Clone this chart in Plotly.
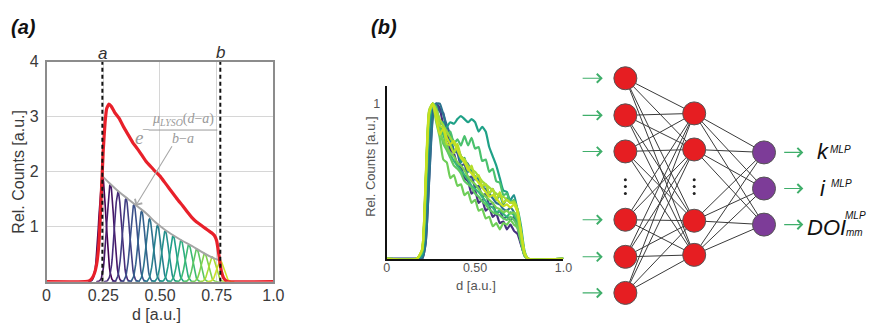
import numpy as np
import plotly.graph_objects as go
from plotly.colors import sample_colorscale

W, H = 892, 330
FONT = "Liberation Sans, Arial, sans-serif"

# ---------------- Panel (a) data ----------------
red_d = [0.00, 0.17, 0.19, 0.20, 0.21, 0.22, 0.23, 0.236, 0.243, 0.25,
         0.258, 0.265, 0.275, 0.285, 0.30, 0.32, 0.34, 0.36, 0.38, 0.40,
         0.42, 0.44, 0.46, 0.48, 0.50, 0.52, 0.54, 0.56, 0.58, 0.60,
         0.62, 0.64, 0.66, 0.68, 0.70, 0.72, 0.73, 0.74, 0.75, 0.755,
         0.76, 0.765, 0.77, 0.78, 0.79, 0.80, 1.00]
red_v = [0.00, 0.00, 0.02, 0.06, 0.14, 0.30, 0.65, 1.10, 1.75, 2.40,
         2.90, 3.15, 3.23, 3.19, 3.08, 2.97, 2.81, 2.67, 2.53, 2.42,
         2.30, 2.18, 2.09, 2.00, 1.92, 1.81, 1.70, 1.59, 1.48, 1.38,
         1.27, 1.17, 1.09, 1.03, 0.97, 0.91, 0.88, 0.84, 0.74, 0.62,
         0.48, 0.33, 0.20, 0.07, 0.02, 0.00, 0.00]

env_d = [0.246, 0.28, 0.32, 0.36, 0.40, 0.44, 0.48, 0.52, 0.56, 0.60, 0.64, 0.68, 0.72, 0.766]
env_v = [1.92, 1.78, 1.63, 1.50, 1.37, 1.24, 1.08, 0.95, 0.84, 0.74, 0.65, 0.55, 0.46, 0.38]

peak_centers = [0.246, 0.281, 0.315, 0.350, 0.385, 0.419, 0.454, 0.489,
                0.523, 0.558, 0.593, 0.627, 0.662, 0.697, 0.731, 0.766]
peak_heights = [1.92, 1.77, 1.64, 1.51, 1.40, 1.28, 1.14, 1.02,
                0.92, 0.83, 0.75, 0.67, 0.59, 0.51, 0.45, 0.38]
peak_sigma = 0.0155

a_pos, b_pos = 0.246, 0.766
xa_ticks = [0, 0.25, 0.5, 0.75, 1.0]
xa_text = ["0", "0.25", "0.50", "0.75", "1.0"]
ya_ticks = [1, 2, 3, 4]

# ---------------- Panel (b) data ----------------
b_grid = [0.00, 0.17, 0.20, 0.22, 0.24, 0.26, 0.28, 0.30, 0.32, 0.34,
          0.36, 0.38, 0.40, 0.42, 0.44, 0.46, 0.48, 0.50, 0.52, 0.54,
          0.56, 0.58, 0.60, 0.62, 0.64, 0.66, 0.68, 0.70, 0.72, 0.74,
          0.76, 0.78, 0.80, 1.00]
b_curves = [
    [0,0,0,0.10,0.52,0.92,1.00,0.97,0.86,0.82,0.70,0.68,0.60,0.59,0.52,0.50,0.42,0.44,0.36,0.38,0.31,0.33,0.27,0.29,0.23,0.24,0.19,0.22,0.18,0.16,0.09,0.02,0,0],
    [0,0,0,0.14,0.60,0.95,1.00,0.95,0.94,0.80,0.78,0.70,0.68,0.60,0.61,0.52,0.53,0.46,0.47,0.40,0.42,0.35,0.36,0.29,0.31,0.26,0.27,0.25,0.27,0.20,0.10,0.02,0,0],
    [0,0,0,0.10,0.50,0.90,1.00,1.00,0.93,0.86,0.80,0.75,0.72,0.66,0.63,0.61,0.56,0.53,0.51,0.46,0.45,0.42,0.39,0.36,0.35,0.32,0.31,0.33,0.30,0.23,0.12,0.03,0,0],
    [0,0,0.02,0.30,0.80,1.00,0.96,0.88,0.88,0.76,0.77,0.68,0.71,0.62,0.65,0.56,0.58,0.51,0.53,0.46,0.48,0.42,0.45,0.38,0.41,0.35,0.39,0.38,0.41,0.31,0.16,0.03,0,0],
    [0,0,0.03,0.40,0.90,1.00,0.96,0.86,0.82,0.85,0.88,0.87,0.90,0.92,0.90,0.88,0.90,0.88,0.82,0.85,0.82,0.72,0.66,0.60,0.52,0.44,0.43,0.37,0.37,0.32,0.21,0.05,0,0],
    [0,0,0.04,0.42,0.90,1.00,0.93,0.86,0.80,0.73,0.67,0.63,0.60,0.57,0.54,0.51,0.47,0.45,0.43,0.40,0.37,0.34,0.33,0.30,0.31,0.29,0.27,0.30,0.28,0.24,0.13,0.03,0,0],
    [0,0,0.05,0.45,0.93,1.00,0.98,0.88,0.86,0.80,0.82,0.74,0.77,0.73,0.79,0.73,0.78,0.71,0.72,0.63,0.64,0.56,0.58,0.50,0.49,0.41,0.42,0.36,0.38,0.30,0.17,0.04,0,0],
    [0,0,0.05,0.46,0.93,1.00,0.94,0.84,0.74,0.70,0.65,0.60,0.58,0.55,0.50,0.48,0.46,0.42,0.40,0.37,0.35,0.32,0.30,0.29,0.28,0.26,0.25,0.27,0.25,0.21,0.11,0.02,0,0],
    [0,0,0.05,0.48,0.95,1.00,0.88,0.78,0.64,0.62,0.52,0.54,0.47,0.48,0.41,0.43,0.36,0.38,0.31,0.32,0.26,0.27,0.21,0.23,0.19,0.23,0.22,0.25,0.22,0.20,0.11,0.02,0,0],
    [0,0,0.05,0.47,0.94,1.00,0.92,0.82,0.76,0.72,0.68,0.66,0.62,0.60,0.57,0.53,0.50,0.48,0.45,0.42,0.40,0.38,0.36,0.33,0.32,0.30,0.31,0.29,0.30,0.26,0.14,0.03,0,0],
    [0,0,0.06,0.52,0.96,1.00,0.96,0.90,0.86,0.82,0.78,0.74,0.71,0.66,0.64,0.60,0.58,0.56,0.53,0.50,0.48,0.46,0.44,0.42,0.40,0.40,0.38,0.36,0.37,0.32,0.18,0.04,0,0],
    [0,0,0.06,0.50,0.95,1.00,0.95,0.86,0.84,0.74,0.73,0.68,0.74,0.66,0.64,0.57,0.60,0.52,0.54,0.47,0.48,0.42,0.45,0.38,0.43,0.36,0.38,0.36,0.36,0.30,0.16,0.03,0,0],
    [0,0,0.06,0.50,0.94,1.00,0.90,0.80,0.84,0.78,0.74,0.76,0.70,0.65,0.62,0.58,0.55,0.52,0.49,0.46,0.43,0.40,0.41,0.39,0.36,0.34,0.35,0.33,0.35,0.30,0.17,0.04,0,0],
]
b_colors = ["#46317e", "#3b528b", "#2c728e", "#21918c", "#1fa187", "#35b779",
            "#4ac16d", "#5ec962", "#6ece58", "#7ad151", "#a0da39", "#b5de2b", "#c8e020"]
xb_ticks = [0, 0.5, 1.0]
xb_text = ["0", "0.50", "1.0"]

# ---------------- Network data (pixel layout) ----------------
layer_x = [632, 702, 773]
input_y = [72, 110, 147, 217, 255, 292]
hidden_y = [108, 145, 218, 253]
output_y = [148, 185, 222]
dots_y = [176, 183, 190]
node_size = 23

fig = go.Figure()

# Panel (a) traces
cols = sample_colorscale("Viridis", list(np.linspace(0.0, 0.93, len(peak_centers))))
for c, h, col in zip(peak_centers, peak_heights, cols):
    xs = np.linspace(c - 4 * peak_sigma, c + 4 * peak_sigma, 49)
    ys = h * np.exp(-0.5 * ((xs - c) / peak_sigma) ** 2)
    fig.add_trace(go.Scatter(x=xs, y=ys, mode="lines", line=dict(color=col, width=1.6),
                             xaxis="x", yaxis="y", hoverinfo="skip"))
fig.add_trace(go.Scatter(x=env_d, y=env_v, mode="lines", line=dict(color="#a5a5a5", width=2, shape="spline"),
                         xaxis="x", yaxis="y"))
fig.add_trace(go.Scatter(x=red_d, y=red_v, mode="lines", line=dict(color="#e8202a", width=3.2, shape="spline", smoothing=0.4),
                         xaxis="x", yaxis="y"))

# Panel (b) traces
for ys, col in zip(b_curves, b_colors):
    fig.add_trace(go.Scatter(x=b_grid, y=ys, mode="lines",
                             line=dict(color=col, width=2.2, shape="spline", smoothing=0.5),
                             xaxis="x2", yaxis="y2"))

# Network edges
ex, ey = [], []
for y0 in input_y:
    for y1 in hidden_y:
        ex += [layer_x[0], layer_x[1], None]
        ey += [y0, y1, None]
for y0 in hidden_y:
    for y1 in output_y:
        ex += [layer_x[1], layer_x[2], None]
        ey += [y0, y1, None]
fig.add_trace(go.Scatter(x=ex, y=ey, mode="lines", line=dict(color="#3a3a3a", width=1),
                         xaxis="x3", yaxis="y3"))
fig.add_trace(go.Scatter(x=[layer_x[0]] * len(input_y) + [layer_x[1]] * len(hidden_y),
                         y=input_y + hidden_y, mode="markers",
                         marker=dict(size=node_size, color="#e61e22", line=dict(color="#555555", width=1)),
                         xaxis="x3", yaxis="y3", cliponaxis=False))
fig.add_trace(go.Scatter(x=[layer_x[2]] * len(output_y), y=output_y, mode="markers",
                         marker=dict(size=node_size, color="#7d3c98", line=dict(color="#555555", width=1)),
                         xaxis="x3", yaxis="y3", cliponaxis=False))
fig.add_trace(go.Scatter(x=[layer_x[0]] * 3 + [layer_x[1]] * 3, y=dots_y * 2, mode="markers",
                         marker=dict(size=3, color="#222222"), xaxis="x3", yaxis="y3"))

def px(xp):
    return xp / W

def py(yp):
    return 1 - yp / H

ann = []
# green arrows
for y in input_y:
    ann.append(dict(x=609, y=y, ax=587, ay=y, xref="x3", yref="y3", axref="x3", ayref="y3",
                    text="", showarrow=True, arrowhead=4, arrowsize=1.6, arrowwidth=1.1,
                    arrowcolor="#3fae6a", standoff=0, startstandoff=0))
for y in output_y:
    ann.append(dict(x=813, y=y, ax=792, ay=y, xref="x3", yref="y3", axref="x3", ayref="y3",
                    text="", showarrow=True, arrowhead=4, arrowsize=1.6, arrowwidth=1.1,
                    arrowcolor="#3fae6a", standoff=0, startstandoff=0))

def tx(x, y, t, size, **kw):
    d = dict(x=px(x), y=py(y), xref="paper", yref="paper", text=t, showarrow=False,
             font=dict(size=size, family=kw.pop("family", FONT), color=kw.pop("color", "#222222")),
             xanchor=kw.pop("xanchor", "center"), yanchor=kw.pop("yanchor", "middle"))
    d.update(kw)
    return d

ann += [
    tx(833, 147.5, "<i>k</i>", 22, color="#111111"),
    tx(851, 145, "<i>MLP</i>", 10, color="#111111"),
    tx(832.5, 185, "<i>i</i>", 22, color="#111111"),
    tx(852, 180, "<i>MLP</i>", 10, color="#111111"),
    tx(837, 225, "<i>DOI</i>", 22, color="#111111"),
    tx(866.5, 212.5, "<i>MLP</i>", 10, color="#111111"),
    tx(865, 230.5, "<i>mm</i>", 10, color="#111111"),
    # panel labels
    tx(20, 19, "<b><i>(a)</i></b>", 20, color="#111111"),
    tx(386, 19, "<b><i>(b)</i></b>", 20, color="#111111"),
    # panel a titles
    tx(155, 314, "d [a.u.]", 16, color="#3a3a3a"),
    tx(15, 168, "Rel. Counts [a.u.]", 16, color="#3a3a3a", textangle=-90),
    # panel b titles
    tx(480, 284, "d [a.u.]", 13, color="#555555"),
    tx(372, 163, "Rel. Counts [a.u.]", 13, color="#555555", textangle=-90),
    # a / b letters
    tx(100, 47, "<i>a</i>", 17, color="#333333"),
    tx(220, 46, "<i>b</i>", 17, color="#333333"),
]

# formula in panel a (data coords)
SERIF = "Liberation Serif, DejaVu Serif, serif"
fc = "#9a9a9a"
ann += [
    dict(x=0.408, y=2.62, xref="x", yref="y", text="<i>e</i>", showarrow=False,
         font=dict(size=19, family=SERIF, color=fc)),
    dict(x=0.436, y=2.77, xref="x", yref="y", text="−", showarrow=False,
         font=dict(size=13, family=SERIF, color=fc)),
    dict(x=0.601, y=2.95, xref="x", yref="y", text="<i>μ<sub>LYSO</sub></i>(<i>d</i>−<i>a</i>)", showarrow=False,
         font=dict(size=14, family=SERIF, color=fc)),
    dict(x=0.601, y=2.60, xref="x", yref="y", text="<i>b</i>−<i>a</i>", showarrow=False,
         font=dict(size=14, family=SERIF, color=fc)),
    dict(x=0.393, y=1.38, ax=0.557, ay=2.49, xref="x", yref="y", axref="x", ayref="y",
         text="", showarrow=True, arrowhead=4, arrowsize=1.5, arrowwidth=1.1, arrowcolor="#a8a8a8",
         standoff=0, startstandoff=0),
]

shapes = [
    dict(type="line", xref="x", yref="y", x0=a_pos, x1=a_pos, y0=0, y1=4,
         line=dict(color="#111111", width=2, dash="4px,3px")),
    dict(type="line", xref="x", yref="y", x0=b_pos, x1=b_pos, y0=0, y1=4,
         line=dict(color="#111111", width=2, dash="4px,3px")),
    dict(type="line", xref="x", yref="y", x0=0.450, x1=0.753, y0=2.757, y1=2.757,
         line=dict(color=fc, width=1)),
]

fig.update_layout(
    width=W, height=H, margin=dict(l=0, r=0, t=0, b=0),
    paper_bgcolor="white", plot_bgcolor="rgba(0,0,0,0)",
    showlegend=False, font=dict(family=FONT),
    annotations=ann, shapes=shapes,
    xaxis=dict(domain=[43.3 / W, 274 / W], range=[0, 1], anchor="y",
               tickvals=xa_ticks, ticktext=xa_text, showgrid=True, gridcolor="#d6d6d6", gridwidth=1,
               showline=True, linecolor="#8c8c8c", linewidth=1.5, mirror=True, zeroline=False,
               ticks="", ticklabelstandoff=-2, tickfont=dict(size=16, color="#3a3a3a")),
    yaxis=dict(domain=[1 - 280.5 / H, 1 - 55 / H], range=[0, 4], anchor="x",
               tickvals=ya_ticks, showgrid=True, gridcolor="#d6d6d6", gridwidth=1,
               showline=True, linecolor="#8c8c8c", linewidth=1.5, mirror=True, zeroline=False,
               ticks="outside", ticklen=3, tickcolor="rgba(0,0,0,0)",
               tickfont=dict(size=16, color="#3a3a3a")),
    xaxis2=dict(domain=[389.3 / W, 569 / W], range=[0, 1], anchor="y2",
                tickvals=xb_ticks, ticktext=xb_text, showgrid=False, zeroline=False,
                showline=True, linecolor="#111111", linewidth=2,
                ticks="", ticklabelstandoff=-4, tickfont=dict(size=12.5, color="#555555")),
    yaxis2=dict(domain=[1 - 257 / H, 1 - 80 / H], range=[0, 1.113], anchor="x2",
                tickvals=[1], ticktext=["1"], showgrid=False, zeroline=False,
                showline=True, linecolor="#111111", linewidth=2,
                ticks="outside", ticklen=2, tickcolor="rgba(0,0,0,0)",
                tickfont=dict(size=12.5, color="#555555")),
    xaxis3=dict(domain=[0.64, 1.0], range=[0.64 * W, W], anchor="y3", visible=False, fixedrange=True),
    yaxis3=dict(domain=[0, 1], range=[H, 0], anchor="x3", visible=False, fixedrange=True),
)

fig.write_html("out.html")
